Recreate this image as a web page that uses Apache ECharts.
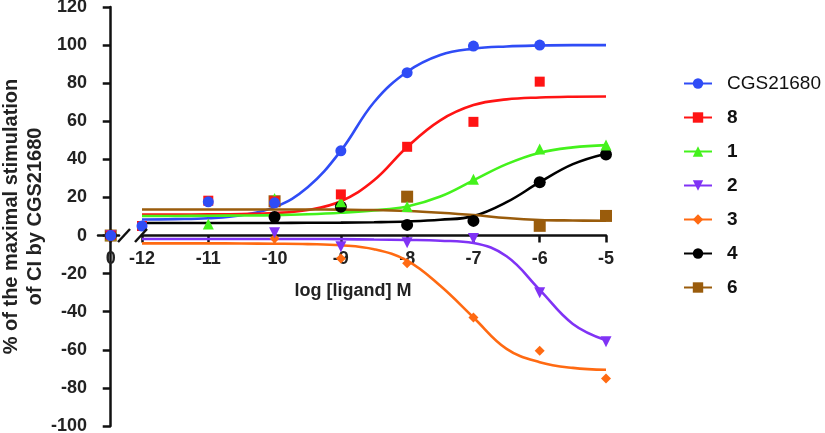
<!DOCTYPE html>
<html><head><meta charset="utf-8">
<script src="https://cdn.jsdelivr.net/npm/echarts@6/dist/echarts.min.js"></script>
<style>html,body{margin:0;padding:0;background:#fff}#c{width:825px;height:433px}</style>
</head><body><div id="c"></div>
<script>
// ---- data ----
const seriesNames = ['CGS21680', '8', '1', '2', '3', '4', '6'];

// fitted curves, read at half-decade steps
const curveX = [-12, -11.5, -11, -10.5, -10, -9.5, -9, -8.5, -8, -7.5, -7, -6.5, -6, -5.5, -5];
const curveCGS21680 = [8.4, 8.6, 9.1, 10.7, 14.9, 25.3, 44.5, 70, 86, 94.8, 98.1, 99.3, 99.8, 100, 100];
const curve8 = [11, 11, 11.1, 11.3, 11.8, 13.4, 18, 29, 46.5, 60.5, 68.5, 71.5, 72.5, 72.9, 73];
const curve1 = [10.3, 10.3, 10.4, 10.5, 10.7, 11.2, 12, 13.2, 15.3, 20.5, 29, 37.5, 43.5, 46.3, 47.5];
const curve2 = [-1.8, -1.8, -1.8, -1.8, -1.8, -1.8, -1.9, -2.1, -2.3, -2.7, -3.9, -10.9, -28.5, -46.4, -55];
const curve3 = [-4.1, -4.1, -4.1, -4.2, -4.3, -4.5, -5.1, -7.2, -13.2, -26.4, -43, -59.5, -66.5, -69.5, -70.5];
const curve4 = [6.6, 6.6, 6.6, 6.6, 6.6, 6.7, 6.8, 7, 7.4, 8.3, 10.2, 17.5, 28, 37.5, 43];
const curve6 = [13.7, 13.7, 13.7, 13.7, 13.7, 13.7, 13.6, 13.4, 12.9, 12, 10.8, 9.2, 8.2, 7.9, 7.8];

// measured points
const pointX = [-12, -11, -10, -9, -8, -7, -6, -5];
const pointsCGS21680 = [5, 17.7, 17.2, 44.5, 85.5, 99.5, 100, null];
const points8 = [5, 18.3, 18, 21.6, 46.6, 59.7, 80.8, null];
const points1 = [null, 6, 19.5, 17.8, 15.3, 29.5, 45.5, 47.5];
const points2 = [null, null, 1.5, -5.9, -3.8, -1.5, -30, -55.7];
const points3 = [null, null, -1.5, -12, -14.6, -43, -60.5, -75];
const points4 = [null, null, 9.7, 15.1, 5.6, 7.7, 28, 42.5];
const points6 = [null, null, 18, null, 20.4, null, 5.1, 10.3];

// control (no ligand) point, drawn on the "0" axis segment
const controlX = [0];
const controlValues = [0, 0, 0, 0, 0, 0, 0];

// tick labels
const xTicksControl = [0];
const xTicksLog = [-12, -11, -10, -9, -8, -7, -6, -5];
const yTicks = [-100, -80, -60, -40, -20, 0, 20, 40, 60, 80, 100, 120];

// ---- styling ----
const FONT = "'Liberation Sans', Arial, Helvetica, sans-serif";
const colors = ['#2f4cf6', '#ff1414', '#44f21c', '#8033f5', '#ff6a12', '#000000', '#9a5c0c'];
const DOWN_TRI = 'path://M0,0 L10,0 L5,9 Z';
const symbols = ['circle', 'rect', 'triangle', DOWN_TRI, 'diamond', 'circle', 'rect'];
const symbolSizes = [11, 10, 11, 11, 10, 12, 12];
const curves = [curveCGS21680, curve8, curve1, curve2, curve3, curve4, curve6];
const points = [pointsCGS21680, points8, points1, points2, points3, points4, points6];

const zip = (xs, ys) => xs.map((x, i) => [x, ys[i]]).filter(p => p[1] !== null);

const series = [];
seriesNames.forEach((name, i) => {
  series.push({
    name, type: 'line', xAxisIndex: 1, yAxisIndex: 1,
    data: zip(curveX, curves[i]),
    smooth: 0.4,
    symbol: symbols[i], showSymbol: false, symbolSize: symbolSizes[i],
    lineStyle: { color: colors[i], width: 2.6 },
    itemStyle: { color: colors[i] },
    z: 3, silent: true
  });
});
seriesNames.forEach((name, i) => {
  series.push({
    name, type: 'scatter', xAxisIndex: 1, yAxisIndex: 1,
    data: zip(pointX, points[i]),
    symbol: symbols[i], symbolSize: symbolSizes[i],
    itemStyle: { color: colors[i], opacity: 1 },
    z: 20 - i, silent: true
  });
  series.push({
    name, type: 'scatter', xAxisIndex: 0, yAxisIndex: 0,
    data: zip(controlX, [controlValues[i]]),
    symbol: symbols[i], symbolSize: symbolSizes[i],
    itemStyle: { color: colors[i], opacity: 1 },
    z: 20 - i, silent: true
  });
});

const axisLbl = { fontFamily: FONT, fontSize: 18, fontWeight: 'bold', color: '#222' };
const lineStyle = { color: '#111', width: 2.5 };

// grid geometry (pixels) and position of the zero line
const GRID_TOP = 7, GRID_BOTTOM = 7, CHART_H = 433;
const Y_MIN = -100, Y_MAX = 120;
const plotH = CHART_H - GRID_TOP - GRID_BOTTOM;
const zeroOffset = -plotH * (0 - Y_MIN) / (Y_MAX - Y_MIN);   // lift the x axes from the bottom edge to y = 0

const option = {
  animation: false,
  backgroundColor: '#fff',
  grid: [
    { left: 98, top: GRID_TOP, width: 21, bottom: GRID_BOTTOM, containLabel: false, outerBoundsMode: 'none' },
    { left: 142, top: GRID_TOP, right: 219, bottom: GRID_BOTTOM, containLabel: false, outerBoundsMode: 'none' }
  ],
  xAxis: [
    {
      gridIndex: 0, type: 'value', min: -1, max: 0.65, position: 'bottom', offset: zeroOffset,
      axisLine: { onZero: false, lineStyle },
      axisTick: { customValues: xTicksControl, length: 7, lineStyle },
      axisLabel: { customValues: xTicksControl, margin: 14, ...axisLbl },
      splitLine: { show: false }
    },
    {
      gridIndex: 1, type: 'value', min: -12, max: -5, interval: 1, position: 'bottom', offset: zeroOffset,
      axisLine: { onZero: false, lineStyle },
      axisTick: { customValues: xTicksLog, length: 7, lineStyle },
      axisLabel: { customValues: xTicksLog, margin: 14, ...axisLbl },
      splitLine: { show: false },
      name: 'log [ligand] M', nameLocation: 'middle', nameGap: 46,
      nameTextStyle: { ...axisLbl, fontSize: 18, padding: [0, 42, 0, 0] }
    }
  ],
  yAxis: [
    {
      gridIndex: 0, type: 'value', min: Y_MIN, max: Y_MAX, interval: 20,
      axisLine: { show: true, lineStyle },
      axisTick: { show: true, length: 8, lineStyle },
      axisLabel: { customValues: yTicks, margin: 11, ...axisLbl },
      splitLine: { show: false },
      name: '% of the maximal stimulation\nof CI by CGS21680',
      nameLocation: 'middle', nameGap: 50,
      nameTextStyle: { fontFamily: FONT, fontSize: 20, fontWeight: 'bold', color: '#222', lineHeight: 24 }
    },
    {
      gridIndex: 1, type: 'value', min: Y_MIN, max: Y_MAX, interval: 20, show: false
    }
  ],
  legend: {
    orient: 'vertical', left: 683, top: 74, padding: 0,
    data: seriesNames,
    itemWidth: 28, itemHeight: 13, itemGap: 15,
    formatter: n => (n === 'CGS21680' ? '{r|' + n + '}' : '{b|' + n + '}'),
    textStyle: {
      rich: {
        r: { fontFamily: FONT, fontSize: 19, fontWeight: 'normal', color: '#111', lineHeight: 20, padding: [0, 0, 0, 10] },
        b: { fontFamily: FONT, fontSize: 19, fontWeight: 'bold', color: '#111', lineHeight: 20, padding: [0, 0, 0, 10] }
      }
    }
  },
  graphic: [
    { type: 'line', shape: { x1: 118, y1: 242, x2: 130, y2: 229 }, style: { stroke: '#111', lineWidth: 2.5 }, z: 100 },
    { type: 'line', shape: { x1: 135, y1: 242, x2: 147, y2: 229 }, style: { stroke: '#111', lineWidth: 2.5 }, z: 100 }
  ],
  series
};

const chart = echarts.init(document.getElementById('c'), null, { renderer: 'canvas' });
chart.setOption(option);
</script>
</body></html>
